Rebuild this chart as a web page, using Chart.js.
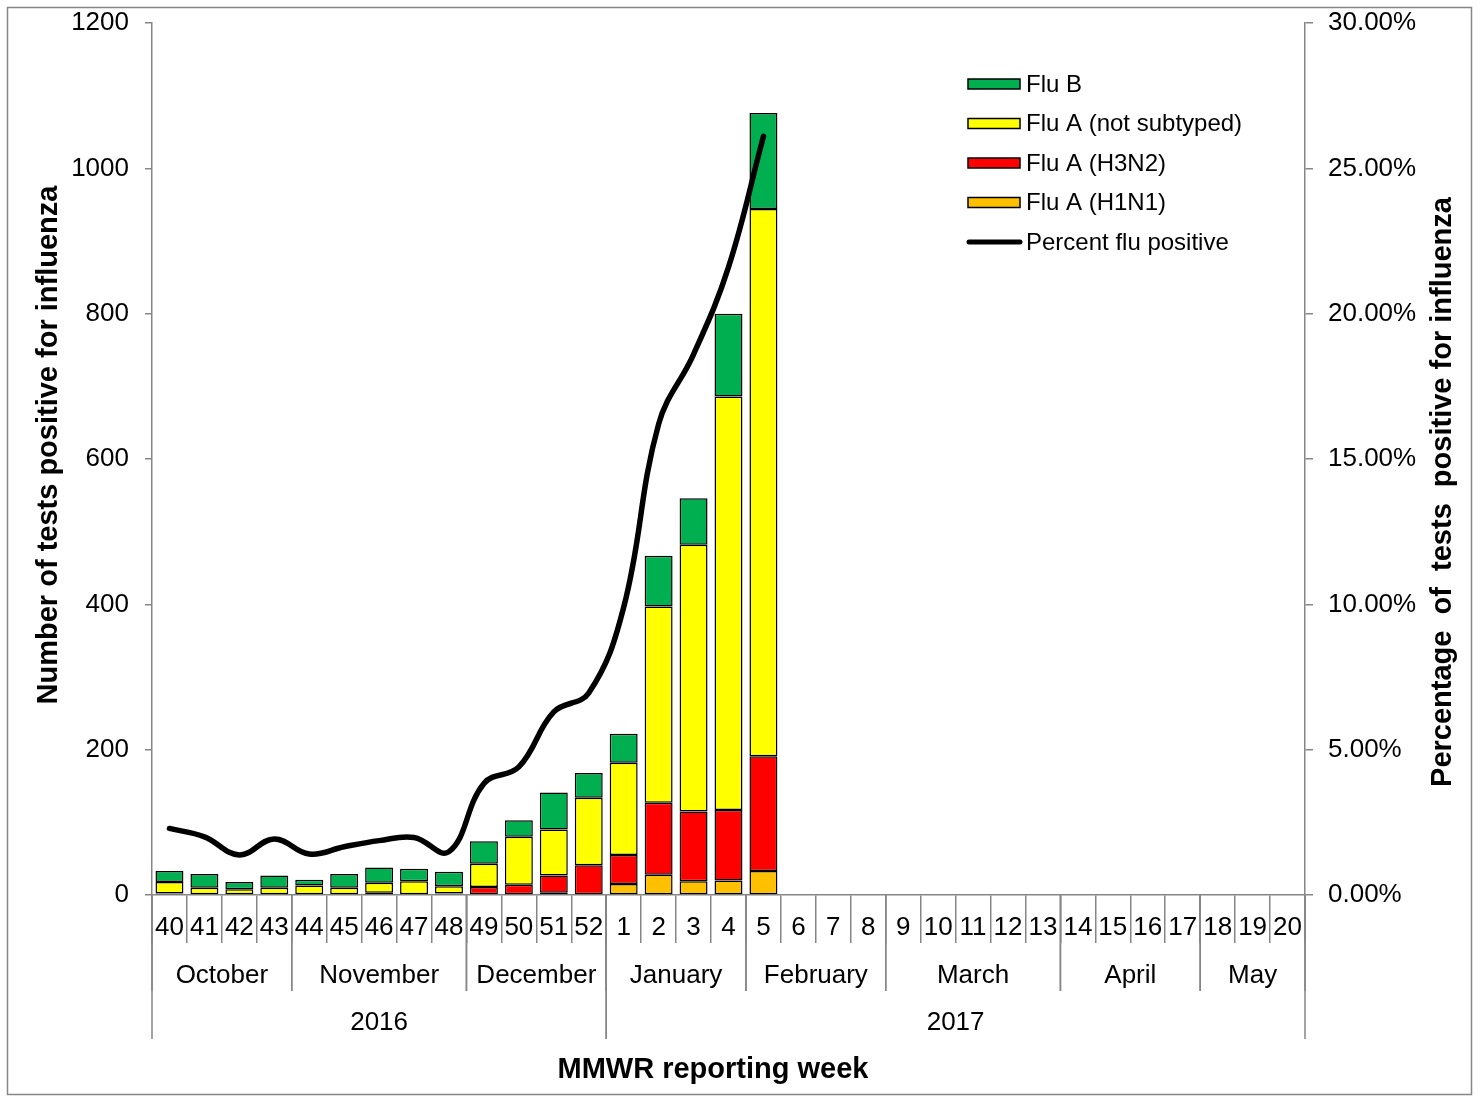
<!DOCTYPE html>
<html>
<head>
<meta charset="utf-8">
<script src="https://cdn.jsdelivr.net/npm/chart.js@4"></script>
<style>
  body { margin: 0; background: #fff; }
  canvas { display: block; }
</style>
</head>
<body>
<canvas id="flu-chart" width="1478" height="1096"></canvas>
<script>
// weeks 40..52 (2016) then 1..20 (2017)
const weeks = ["40","41","42","43","44","45","46","47","48","49","50","51","52",
  "1","2","3","4","5","6","7","8","9","10","11","12","13","14","15","16","17","18","19","20"];
// month groups: [label, number of weeks]
const months = [["October",4],["November",5],["December",4],["January",4],["February",4],["March",5],["April",4],["May",3]];
const years = [["2016",13],["2017",20]];

const fluH1N1 = [0,0,0,0,0,0,0,0,0,1,1,3,1, 15,28,19,20,33];
const fluH3N2 = [2,1,0,0,0,1,3,1,2,10,13,24,40, 40,99,96,97,158];
const fluANotSub = [16,9,8,10,13,9,14,18,10,32,66,63,93, 127,270,367,569,753];
const fluB = [15,19,10,17,8,19,21,17,20,31,23,51,34, 40,70,64,114,132];
const pctPositive = [2.29,2.0,1.38,1.93,1.41,1.66,1.87,1.98,1.49,3.84,4.41,6.3,6.95, 9.9,16.2,18.6,21.6,26.1];

const axisGray = "#868686";
const font = "Liberation Sans, Arial, sans-serif";

const extras = {
  id: "extras",
  beforeDraw(chart) {
    const ctx = chart.ctx;
    ctx.save();
    ctx.fillStyle = "#fff";
    ctx.fillRect(0, 0, chart.width, chart.height);
    ctx.strokeStyle = axisGray;
    ctx.lineWidth = 1.5;
    ctx.strokeRect(7.5, 7.5, 1464, 1087);
    ctx.restore();
  },
  afterDraw(chart) {
    const ctx = chart.ctx;
    const x = chart.scales.x;
    const area = chart.chartArea;
    const bound = (i) => {
      if (i <= 0) return x.left;
      if (i >= weeks.length) return x.right;
      return (x.getPixelForValue(i - 1) + x.getPixelForValue(i)) / 2;
    };
    ctx.save();
    ctx.fillStyle = "#000";
    ctx.textAlign = "center";
    ctx.textBaseline = "middle";
    // week labels
    ctx.font = "26px " + font;
    weeks.forEach((w, i) => ctx.fillText(w, x.getPixelForValue(i), area.bottom + 33));
    // month labels + separators
    ctx.strokeStyle = axisGray;
    ctx.lineWidth = 1.5;
    let i0 = 0;
    months.forEach(([m, n]) => {
      const a = bound(i0), b = bound(i0 + n);
      ctx.fillText(m, (a + b) / 2, area.bottom + 81);
      [a, b].forEach(px => {
        ctx.beginPath(); ctx.moveTo(px, area.bottom); ctx.lineTo(px, area.bottom + 96); ctx.stroke();
      });
      i0 += n;
    });
    i0 = 0;
    years.forEach(([y, n]) => {
      const a = bound(i0), b = bound(i0 + n);
      ctx.fillText(y, (a + b) / 2, area.bottom + 128);
      [a, b].forEach(px => {
        ctx.beginPath(); ctx.moveTo(px, area.bottom); ctx.lineTo(px, area.bottom + 144); ctx.stroke();
      });
      i0 += n;
    });
    // axis titles
    ctx.font = "bold 29px " + font;
    ctx.fillText("MMWR reporting week", 713, 1070);
    ctx.save();
    ctx.translate(49, 445);
    ctx.rotate(-Math.PI / 2);
    ctx.fillText("Number of tests positive for influenza", 0, 0);
    ctx.restore();
    ctx.save();
    ctx.translate(1443, 492);
    ctx.rotate(-Math.PI / 2);
    ctx.fillText("Percentage  of  tests  positive for influenza", 0, 0);
    ctx.restore();

    // legend
    ctx.font = "24px " + font;
    ctx.textAlign = "left";
    const items = chart.data.datasets.slice().sort((a, b) => a.legendOrder - b.legendOrder);
    items.forEach((ds, k) => {
      const cy = 84 + k * 39.5;
      if (ds.type === "line") {
        ctx.strokeStyle = "#000";
        ctx.lineWidth = 5;
        ctx.lineCap = "round";
        ctx.beginPath(); ctx.moveTo(969, cy); ctx.lineTo(1020, cy); ctx.stroke();
      } else {
        ctx.fillStyle = ds.backgroundColor;
        ctx.fillRect(968, cy - 5, 52, 10);
        ctx.strokeStyle = "#000";
        ctx.lineWidth = 1.5;
        ctx.strokeRect(968, cy - 5, 52, 10);
      }
      ctx.fillStyle = "#000";
      ctx.fillText(ds.label, 1026, cy + 1);
    });
    ctx.restore();
  }
};

const barStyle = { type: "bar", borderColor: "#000", borderWidth: 1.5, borderSkipped: false, yAxisID: "y", order: 1 };
const noVPad = (w) => (s) => { s.width = w; s.paddingTop = 0; s.paddingBottom = 0; };

new Chart(document.getElementById("flu-chart"), {
  data: {
    labels: weeks,
    datasets: [
      { ...barStyle, label: "Flu A (H1N1)", data: fluH1N1, backgroundColor: "#FFC000", legendOrder: 3 },
      { ...barStyle, label: "Flu A (H3N2)", data: fluH3N2, backgroundColor: "#FF0000", legendOrder: 2 },
      { ...barStyle, label: "Flu A (not subtyped)", data: fluANotSub, backgroundColor: "#FFFF00", legendOrder: 1 },
      { ...barStyle, label: "Flu B", data: fluB, backgroundColor: "#00B050", legendOrder: 0 },
      { type: "line", label: "Percent flu positive", data: pctPositive, yAxisID: "y1",
        borderColor: "#000", borderWidth: 5.5, pointRadius: 0, tension: 0.4, order: 0,
        borderCapStyle: "round", legendOrder: 4 }
    ]
  },
  options: {
    responsive: false,
    animation: false,
    layout: { padding: { top: 23 } },
    plugins: { legend: { display: false }, tooltip: { enabled: false } },
    datasets: { bar: { categoryPercentage: 0.8, barPercentage: 1.0 } },
    scales: {
      x: {
        stacked: true,
        grid: { offset: true, drawOnChartArea: false, color: axisGray, lineWidth: 1.5, tickLength: 48 },
        border: { color: axisGray, width: 1.5 },
        ticks: { display: false },
        afterFit: (s) => { s.height = 201; s.paddingLeft = 0; s.paddingRight = 0; }
      },
      y: {
        stacked: true,
        position: "left",
        min: 0, max: 1200,
        ticks: { stepSize: 200, color: "#000", font: { family: font, size: 26 }, padding: 16,
          callback: (v) => String(v) },
        grid: { drawOnChartArea: false, color: axisGray, lineWidth: 1.5, tickLength: 7 },
        border: { color: axisGray, width: 1.5 },
        afterFit: noVPad(152)
      },
      y1: {
        position: "right",
        min: 0, max: 30,
        ticks: { stepSize: 5, color: "#000", font: { family: font, size: 26 }, padding: 15,
          callback: (v) => v.toFixed(2) + "%" },
        grid: { drawOnChartArea: false, color: axisGray, lineWidth: 1.5, tickLength: 8 },
        border: { color: axisGray, width: 1.5 },
        afterFit: noVPad(173)
      }
    }
  },
  plugins: [extras]
});
</script>
</body>
</html>
